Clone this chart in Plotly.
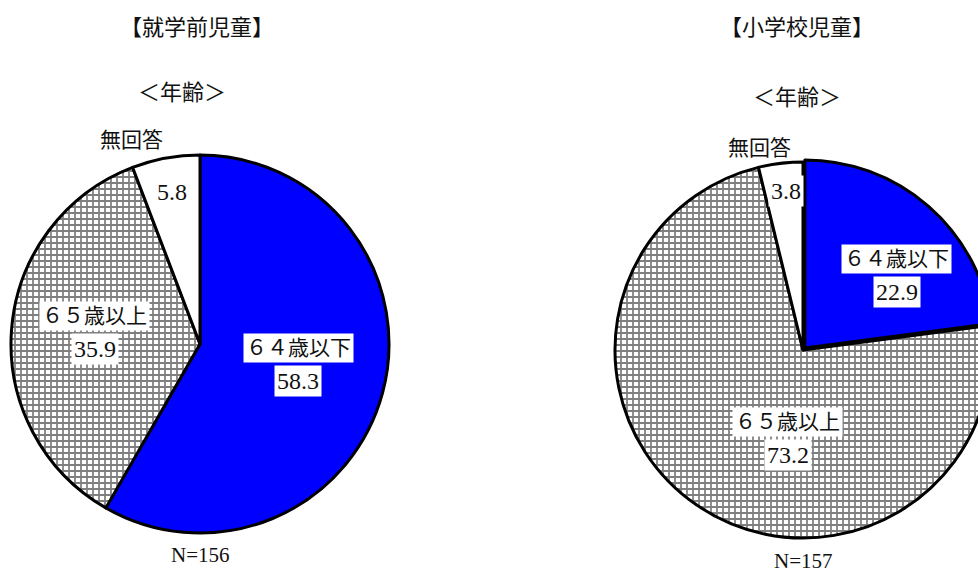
import math
import plotly.graph_objects as go

# ---------------- data ----------------
CATEGORIES = ["６４歳以下", "６５歳以上", "無回答"]
PRESCHOOL_VALUES = [58.3, 35.9, 5.8]
ELEMENTARY_VALUES = [22.9, 73.2, 3.8]
PANEL_TITLES = ["【就学前児童】", "【小学校児童】"]
SUBTITLE = "＜年齢＞"
N_LABELS = ["N=156", "N=157"]

# ---------------- styles / layout ----------------
W, H = 1000, 573
SLICE_COLORS = ["#0000FF", "#FFFFFF", "#FFFFFF"]
SLICE_PATTERNS = ["", "+", ""]
GOTHIC = "Noto Sans CJK JP, sans-serif"
MINCHO = "Liberation Serif, Noto Sans CJK JP, serif"
FS = 21
FS_NUM = 24
FS_TITLE = 22

# pie geometry in pixels: centre x, centre y, radius, pulls
PIES = [
    dict(cx=200, cy=344, r=189, pull=[0, 0, 0], values=PRESCHOOL_VALUES,
         title=PANEL_TITLES[0], title_x=197, sub_x=182, sub_y=90, n=N_LABELS[0], n_dy=22,
         labels=[(0.53, 3.7), (0.56, -2.0), (0.82, 0.0)], name3=(1.14, 8.0), value3_box=False),
    dict(cx=803, cy=350, r=188, pull=[0.015, 0, 0], values=ELEMENTARY_VALUES,
         title=PANEL_TITLES[1], title_x=797, sub_x=797, sub_y=95, n=N_LABELS[1], n_dy=23,
         labels=[(0.64, -10.0), (0.475, 24.5), (0.85, -0.7)], name3=(1.10, 5.3), value3_box=True),
]

fig = go.Figure()
annotations = []


def px2paper(x, y):
    return x / W, 1 - y / H


def add_text(x, y, text, font_family, size=FS, box=True):
    xp, yp = px2paper(x, y)
    annotations.append(dict(
        x=xp, y=yp, xref="paper", yref="paper", text=text, showarrow=False,
        xanchor="center", yanchor="middle",
        font=dict(family=font_family, size=size, color="#111111"),
        bgcolor="#FFFFFF" if box else "rgba(0,0,0,0)", borderpad=2,
    ))


for p in PIES:
    maxpull = max(p["pull"])
    rd = p["r"] * (1 + maxpull)
    x0, x1 = (p["cx"] - rd) / W, (p["cx"] + rd) / W
    y0, y1 = (H - p["cy"] - rd) / H, (H - p["cy"] + rd) / H
    fig.add_trace(go.Pie(
        labels=CATEGORIES, values=p["values"], sort=False, direction="clockwise",
        rotation=0, pull=p["pull"], textinfo="none", hoverinfo="label+value",
        domain=dict(x=[x0, x1], y=[y0, y1]), showlegend=False,
        marker=dict(colors=SLICE_COLORS,
                    line=dict(color="#000000", width=3),
                    pattern=dict(shape=SLICE_PATTERNS, fgcolor="#000000",
                                 size=6, solidity=0.5, fillmode="overlay")),
    ))

    total = sum(p["values"])
    cum = 0.0
    for i, (cat, v) in enumerate(zip(CATEGORIES, p["values"])):
        mid = (cum + v / 2) / total
        cum += v
        base_ang = 90 - 360 * mid
        frac, dang = p["labels"][i]
        ang = math.radians(base_ang + dang)
        lx = p["cx"] + frac * p["r"] * math.cos(ang)
        ly = p["cy"] - frac * p["r"] * math.sin(ang)
        if i < 2:
            add_text(lx, ly - 16, cat, MINCHO)
            add_text(lx, ly + 17, f"{v:.1f}", MINCHO, size=FS_NUM)
        else:
            add_text(lx, ly, f"{v:.1f}", MINCHO, size=FS_NUM, box=p["value3_box"])
            nf, nd = p["name3"]
            ang2 = math.radians(base_ang + nd)
            nx = p["cx"] + nf * p["r"] * math.cos(ang2)
            ny = p["cy"] - nf * p["r"] * math.sin(ang2)
            add_text(nx, ny, cat, MINCHO, box=False)

    # titles and N
    add_text(p["title_x"], 25, p["title"], GOTHIC, size=FS_TITLE, box=False)
    add_text(p["sub_x"], p["sub_y"], SUBTITLE, GOTHIC, size=FS_TITLE, box=False)
    add_text(p["cx"], p["cy"] + p["r"] + p["n_dy"], p["n"], MINCHO, box=False)

fig.update_layout(
    width=W, height=H, margin=dict(l=0, r=0, t=0, b=0),
    paper_bgcolor="#FFFFFF", plot_bgcolor="#FFFFFF",
    annotations=annotations,
)

fig.write_html(
    "out.html",
    config={"displayModeBar": False},
    post_script=("document.documentElement.style.overflow='hidden';"
                 "document.body.style.overflow='hidden';"
                 "document.body.style.margin='0';"),
)
